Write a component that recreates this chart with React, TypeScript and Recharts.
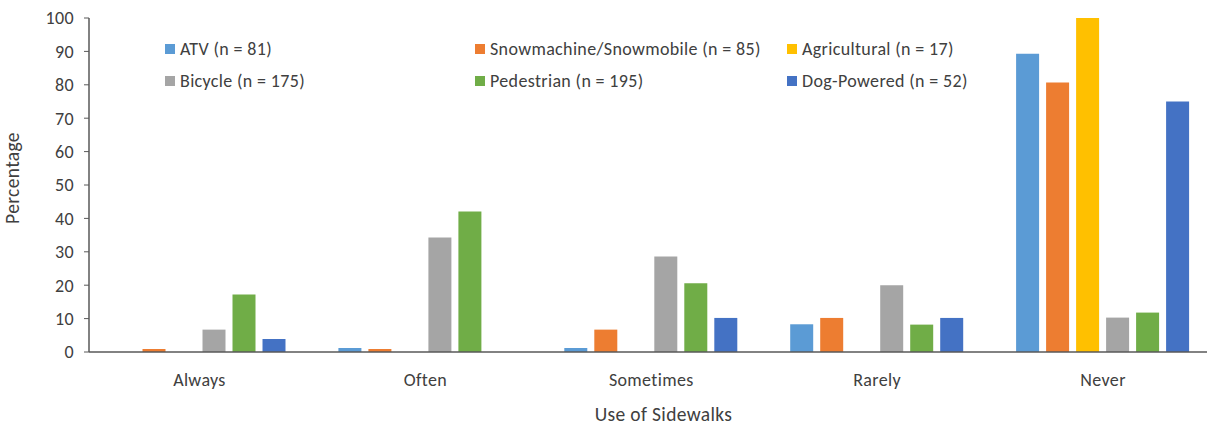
import React from "react";
import { BarChart, Bar, XAxis, YAxis, Label } from "recharts";

const categories = ["Always", "Often", "Sometimes", "Rarely", "Never"];
const atv = [0, 1.2, 1.2, 8.3, 89.3];
const snow = [0.9, 0.9, 6.7, 10.2, 80.7];
const agri = [0, 0, 0, 0, 100];
const bicycle = [6.7, 34.3, 28.6, 20.0, 10.3];
const pedestrian = [17.2, 42.1, 20.6, 8.2, 11.8];
const dog = [3.9, 0, 10.2, 10.2, 75.0];
const yTicks = [0, 10, 20, 30, 40, 50, 60, 70, 80, 90, 100];

const series = [
  { key: "atv", name: "ATV (n = 81)", color: "#5B9BD5", values: atv },
  { key: "snow", name: "Snowmachine/Snowmobile (n = 85)", color: "#ED7D31", values: snow },
  { key: "agri", name: "Agricultural (n = 17)", color: "#FFC000", values: agri },
  { key: "bicycle", name: "Bicycle (n = 175)", color: "#A5A5A5", values: bicycle },
  { key: "pedestrian", name: "Pedestrian (n = 195)", color: "#70AD47", values: pedestrian },
  { key: "dog", name: "Dog-Powered (n = 52)", color: "#4472C4", values: dog },
];

const data = categories.map((c, i) => {
  const row: Record<string, string | number> = { category: c };
  series.forEach((s) => {
    row[s.key] = s.values[i];
  });
  return row;
});

const FONT = "Carlito, Calibri, 'Liberation Sans', Arial, sans-serif";
const TEXT = "#404040";
const FS = 18;
const TFS = 19.5;
const LS = 0.35;

const LegendBox = () => (
  <div
    style={{
      position: "absolute",
      left: 165,
      top: 38,
      display: "grid",
      gridTemplateColumns: "310px 312px 300px",
      rowGap: 10,
      fontFamily: FONT,
      fontSize: FS,
      letterSpacing: LS,
      color: TEXT,
      lineHeight: "22px",
    }}
  >
    {series.map((s) => (
      <div key={s.key} style={{ display: "flex", alignItems: "center", height: 22 }}>
        <span
          style={{
            display: "inline-block",
            width: 10,
            height: 10,
            background: s.color,
            marginRight: 5,
          }}
        />
        <span>{s.name}</span>
      </div>
    ))}
  </div>
);

export default function App() {
  return (
    <div
      style={{
        position: "absolute",
        left: 0,
        top: 0,
        width: 1207,
        height: 427,
        overflow: "hidden",
        background: "#fff",
      }}
    >
      <BarChart
        width={1216}
        height={427}
        data={data}
        margin={{ top: 18, right: 0, bottom: 0, left: 0 }}
        barSize={23}
        barGap={7}
      >
        <XAxis
          dataKey="category"
          height={75}
          padding={{ left: -2.5, right: 0 }}
          tickLine={false}
          axisLine={{ stroke: "#595959", strokeWidth: 1.5 }}
          tick={{ fill: TEXT, fontSize: FS, fontFamily: FONT, letterSpacing: LS }}
          tickMargin={15}
        >
          <Label
            value="Use of Sidewalks"
            position="insideBottom"
            offset={6}
            dx={11}
            style={{ fill: TEXT, fontSize: TFS, fontFamily: FONT, letterSpacing: LS }}
          />
        </XAxis>
        <YAxis
          width={89}
          domain={[0, 100]}
          ticks={yTicks}
          interval={0}
          tickSize={5}
          tickLine={{ stroke: "#595959" }}
          axisLine={{ stroke: "#595959", strokeWidth: 1.5 }}
          tick={{ fill: TEXT, fontSize: FS, fontFamily: FONT, letterSpacing: LS }}
          tickMargin={10}
        >
          <Label
            value="Percentage"
            angle={-90}
            position="insideLeft"
            offset={12}
            dy={-7}
            style={{ fill: TEXT, fontSize: TFS, fontFamily: FONT, letterSpacing: LS, textAnchor: "middle" }}
          />
        </YAxis>
        {series.map((s) => (
          <Bar
            key={s.key}
            dataKey={s.key}
            name={s.name}
            fill={s.color}
            isAnimationActive={false}
          />
        ))}
      </BarChart>
      <LegendBox />
    </div>
  );
}
